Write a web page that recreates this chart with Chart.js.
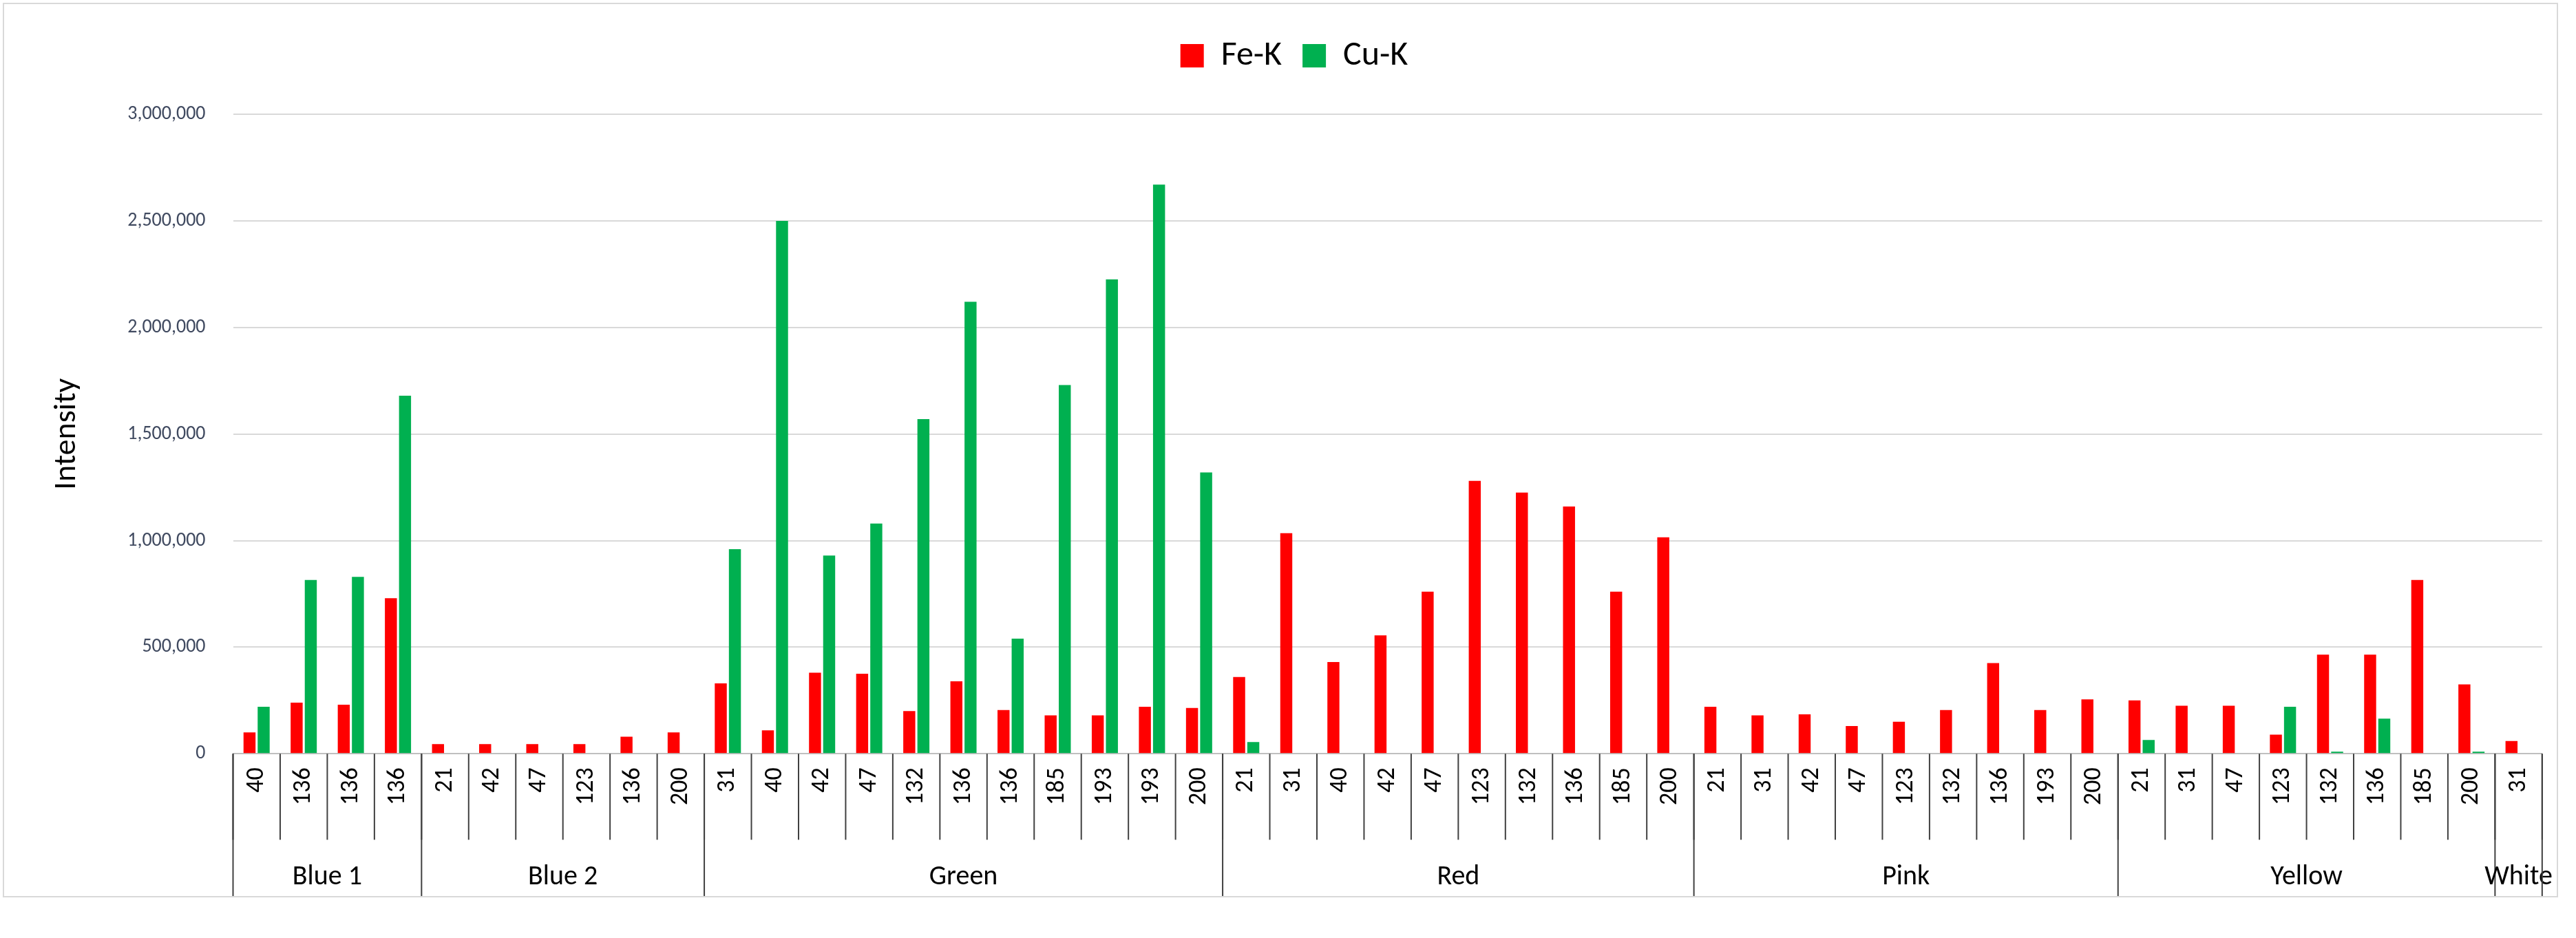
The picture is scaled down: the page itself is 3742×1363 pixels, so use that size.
<!DOCTYPE html>
<html><head><meta charset="utf-8">
<script src="https://cdn.jsdelivr.net/npm/chart.js@4"></script>
<style>html,body{margin:0;background:#fff}#w{position:absolute;left:4px;top:4px;width:3712px;height:1300px;border:2px solid #d9d9d9;box-sizing:border-box}</style>
</head><body><div id="w"><canvas id="c"></canvas></div>
<script>
const groups=["Blue 1","Blue 2","Green","Red","Pink","Yellow","White"];
const groupSizes=[4,6,11,10,9,8,1];
const categories=["40","136","136","136","21","42","47","123","136","200","31","40","42","47","132","136","136","185","193","193","200","21","31","40","42","47","123","132","136","185","200","21","31","42","47","123","132","136","193","200","21","31","47","123","132","136","185","200","31"];
const feK=[100000,240000,230000,730000,45000,45000,45000,45000,80000,100000,330000,110000,380000,375000,200000,340000,205000,180000,180000,220000,215000,360000,1035000,430000,555000,760000,1280000,1225000,1160000,760000,1015000,220000,180000,185000,130000,150000,205000,425000,205000,255000,250000,225000,225000,90000,465000,465000,815000,325000,60000];
const cuK=[220000,815000,830000,1680000,0,0,0,0,0,0,960000,2500000,930000,1080000,1570000,2120000,540000,1730000,2225000,2670000,1320000,55000,0,0,0,0,0,0,0,0,0,0,0,0,0,0,0,0,0,0,65000,0,0,220000,10000,165000,0,10000,0];
const yTicks=[0,500000,1000000,1500000,2000000,2500000,3000000];
const F='Calibri, Carlito, "Liberation Sans", sans-serif';
const groupPlugin={id:'g',afterDraw(ch){const x=ch.scales.x,ctx=ch.ctx;const top=x.top,bot=top+215;ctx.save();ctx.strokeStyle='#404040';ctx.lineWidth=2;ctx.fillStyle='#000';ctx.font='40px '+F;ctx.textAlign='center';ctx.textBaseline='middle';
const half=(x.getPixelForValue(1)-x.getPixelForValue(0))/2;
const edge=i=>x.getPixelForValue(i)-half;
for(let i=0;i<=categories.length;i++){ctx.beginPath();ctx.moveTo(edge(i),top);ctx.lineTo(edge(i),top+125);ctx.stroke();}
let s=0;
for(let g=0;g<groups.length;g++){const l=edge(s),r=edge(s+groupSizes[g]);ctx.beginPath();ctx.moveTo(l,top);ctx.lineTo(l,bot);ctx.stroke();ctx.fillText(groups[g],(l+r)/2,top+180);s+=groupSizes[g];}
ctx.beginPath();ctx.moveTo(edge(s),top);ctx.lineTo(edge(s),bot);ctx.stroke();ctx.restore();}};
new Chart(document.getElementById('c'),{type:'bar',
data:{labels:categories,datasets:[{label:'Fe-K',data:feK,backgroundColor:'#ff0000'},{label:'Cu-K',data:cuK,backgroundColor:'#00b050'}]},
options:{responsive:true,maintainAspectRatio:false,animation:false,
layout:{padding:{left:60,right:20,top:20,bottom:120}},
datasets:{bar:{categoryPercentage:0.6,barPercentage:0.85}},
plugins:{legend:{labels:{boxWidth:34,boxHeight:34,font:{size:50,family:F},color:'#000',padding:30}},tooltip:{enabled:false}},
scales:{x:{grid:{display:false},border:{color:'#bfbfbf',width:2},
ticks:{minRotation:90,maxRotation:90,autoSkip:false,color:'#000',padding:12,font:{size:36,family:F}}},
y:{min:0,max:3000000,afterBuildTicks(a){a.ticks=yTicks.map(v=>({value:v}));},grid:{color:'#d9d9d9',lineWidth:2,drawTicks:false},border:{display:false},
ticks:{padding:40,color:'#404a60',font:{size:28,family:F},callback:v=>v.toLocaleString('en-US')},
title:{display:true,text:'Intensity',color:'#000',font:{size:46,family:F},padding:{bottom:20}}}}},
plugins:[groupPlugin,{id:'lp',beforeInit(ch){const o=ch.legend&&ch.legend.fit;},afterInit(ch){const f=ch.legend.fit;ch.legend.fit=function(){f.call(this);this.height+=50;};}}]});
</script></body></html>
